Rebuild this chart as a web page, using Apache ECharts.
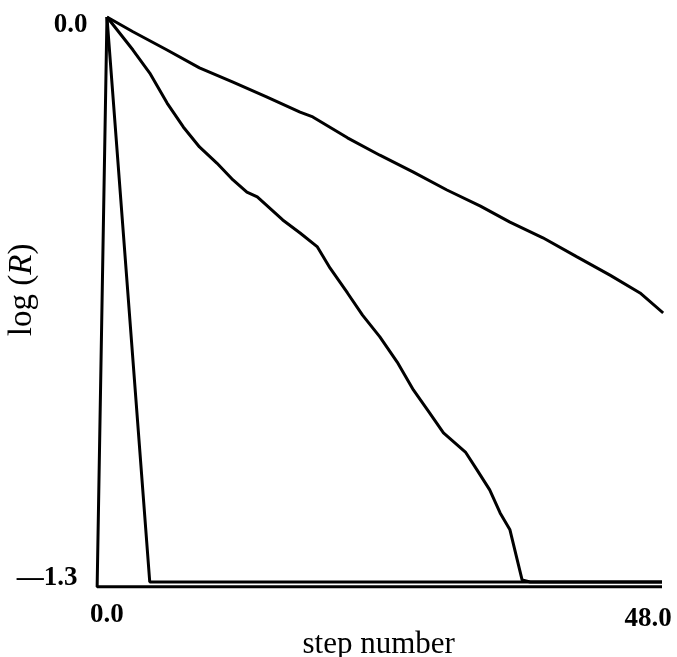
<!DOCTYPE html>
<html>
<head>
<meta charset="utf-8">
<script src="https://cdn.jsdelivr.net/npm/echarts@6/dist/echarts.min.js"></script>
<style>html,body{margin:0;padding:0;background:#fff;}#c{width:677px;height:657px;}</style>
</head>
<body>
<div id="c"></div>
<script>
// step numbers and log(R) values
var lineA = [[0, 0], [-0.85, -1.311], [48, -1.311]];
var lineB = [[0, 0], [3.7, -1.3], [48, -1.3]];
var lineC = [[0, 0], [2.25, -0.076], [3.7, -0.129], [5.2, -0.198], [6.6, -0.253], [8.0, -0.299], [9.5, -0.336],
  [10.9, -0.375], [12.1, -0.403], [13.0, -0.414], [15.2, -0.467], [16.7, -0.497], [18.2, -0.529], [19.3, -0.578],
  [20.8, -0.635], [22.1, -0.686], [23.6, -0.736], [25.1, -0.794], [26.5, -0.858], [27.9, -0.911], [29.1, -0.957],
  [31.0, -1.001], [32.0, -1.042], [33.1, -1.088], [34.0, -1.141], [34.85, -1.180], [35.9, -1.295], [36.6, -1.3], [48, -1.3]];
var lineD = [[0, 0], [2.25, -0.034], [5.2, -0.076], [8.0, -0.117], [10.9, -0.150], [13.8, -0.184], [16.7, -0.219],
  [17.8, -0.230], [20.8, -0.278], [23.6, -0.318], [26.5, -0.357], [29.4, -0.398], [32.3, -0.435], [34.85, -0.472],
  [37.7, -0.508], [40.65, -0.552], [43.5, -0.594], [46.1, -0.635], [48.1, -0.681]];
var xTickLabels = {0: '0.0', 48: '48.0'};
var yTickLabels = [[0, '0.0'], [-1.3, '\u20141.3']];

var chart = echarts.init(document.getElementById('c'), null, {renderer: 'canvas'});
var serif = 'Liberation Serif';
function mk(d) {
  return {type: 'line', data: d, showSymbol: false, symbol: 'none', clip: false,
    lineStyle: {color: '#000', width: 3}, animation: false};
}
chart.setOption({
  animation: false,
  backgroundColor: '#fff',
  grid: {left: 95.4, right: 15, top: 17, bottom: 66.3, containLabel: false, outerBoundsMode: 'none'},
  xAxis: {
    type: 'value', min: -1, max: 48, interval: 1,
    axisLine: {show: false}, axisTick: {show: false}, splitLine: {show: false},
    axisLabel: {
      margin: 11, color: '#000', fontFamily: serif, fontWeight: 'bold', fontSize: 27,
      formatter: function (v) {
        if (Math.abs(v) < 1e-9) return '{a|' + xTickLabels[0] + '}';
        if (Math.abs(v - 48) < 1e-9) return '{b|' + xTickLabels[48] + '}';
        return '';
      },
      rich: {
        a: {fontFamily: serif, fontWeight: 'bold', fontSize: 27, color: '#000'},
        b: {fontFamily: serif, fontWeight: 'bold', fontSize: 27, color: '#000', padding: [4, 28, 0, 0]}
      }
    },
    name: 'step number', nameLocation: 'middle', nameGap: 39, nameMoveOverlap: false,
    nameTextStyle: {fontFamily: serif, fontSize: 31, color: '#000'}
  },
  yAxis: {
    type: 'value', min: -1.32, max: 0, interval: 0.01,
    axisLine: {show: false}, axisTick: {show: false}, splitLine: {show: false},
    axisLabel: {
      margin: 8, color: '#000', fontFamily: serif, fontWeight: 'bold', fontSize: 27,
      formatter: function (v) {
        for (var i = 0; i < yTickLabels.length; i++) {
          if (Math.abs(v - yTickLabels[i][0]) < 1e-9) return (i === 0 ? '{a|' : '{b|') + yTickLabels[i][1] + '}';
        }
        return '';
      },
      rich: {
        a: {fontFamily: serif, fontWeight: 'bold', fontSize: 27, color: '#000', padding: [16, 0, 0, 0]},
        b: {fontFamily: serif, fontWeight: 'bold', fontSize: 27, color: '#000', padding: [0, 10, 8, 0]}
      }
    },
    name: 'log ({i|R})', nameLocation: 'middle', nameGap: 57, nameRotate: 90, nameMoveOverlap: false,
    nameTextStyle: {fontFamily: serif, fontSize: 33, color: '#000', padding: [0, 0, 0, 28],
      rich: {i: {fontFamily: serif, fontSize: 33, fontStyle: 'italic', color: '#000'}}}
  },
  series: [mk(lineA), mk(lineB), mk(lineC), mk(lineD)]
});
</script>
</body>
</html>
